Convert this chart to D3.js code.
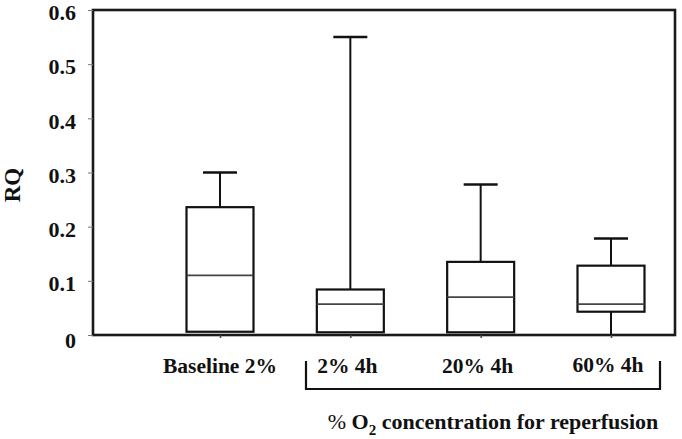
<!DOCTYPE html>
<html>
<head>
<meta charset="utf-8">
<script src="https://cdn.jsdelivr.net/npm/d3@7"></script>
<style>
  html, body { margin: 0; padding: 0; background: #fff; }
  svg { display: block; }
  text { font-family: "Liberation Serif", "Times New Roman", serif; font-weight: bold; fill: #111; }
</style>
</head>
<body>
<svg id="chart" width="682" height="439"></svg>
<script>
// ---- data ----
const categories = ["Baseline 2%", "2% 4h", "20% 4h", "60% 4h"];
const whiskerMin = [0.006, 0.005, 0.005, 0.0];
const q1Values   = [0.006, 0.005, 0.005, 0.043];
const medians    = [0.110, 0.057, 0.070, 0.057];
const q3Values   = [0.236, 0.084, 0.135, 0.128];
const whiskerMax = [0.300, 0.550, 0.278, 0.178];
const yTicks = [0, 0.1, 0.2, 0.3, 0.4, 0.5, 0.6];
const yTickLabels = ["0", "0.1", "0.2", "0.3", "0.4", "0.5", "0.6"];
const yLabel = "RQ";
const bracketLabel = "concentration for reperfusion";

const boxes = categories.map((c, i) => ({
  cat: c, min: whiskerMin[i], q1: q1Values[i], med: medians[i], q3: q3Values[i], max: whiskerMax[i]
}));

// ---- layout ----
const plotL = 93, plotR = 675, plotT = 10, plotB = 335;
const svg = d3.select("#chart");

const y = d3.scaleLinear().domain([0, 0.6]).range([plotB, plotT]);
const x = d3.scalePoint().domain(categories).range([220, 611]);
const boxW = 67, capW = 34;

// frame
svg.append("rect")
  .attr("x", plotL).attr("y", plotT)
  .attr("width", plotR - plotL).attr("height", plotB - plotT)
  .attr("fill", "none").attr("stroke", "#1a1a1a").attr("stroke-width", 2.6);

// y axis
const yAxis = d3.axisLeft(y).tickValues(yTicks).tickSize(5).tickPadding(12)
  .tickFormat((d, i) => yTickLabels[i]);
const gy = svg.append("g").attr("transform", `translate(${plotL},0)`).call(yAxis);
gy.select(".domain").remove();
gy.selectAll(".tick line").attr("stroke", "#777").attr("stroke-width", 1);
gy.selectAll(".tick text")
  .attr("dy", (d) => d === 0 ? "0.55em" : "0.44em")
  .style("font-size", "22px")
  .style("font-family", "Liberation Serif, serif")
  .style("font-weight", "bold")
  .attr("fill", "#111");

// x axis ticks (small, below axis)
const xAxis = d3.axisBottom(x).tickSize(3).tickFormat("");
const gx = svg.append("g").attr("transform", `translate(0,${plotB})`).call(xAxis);
gx.select(".domain").remove();
gx.selectAll(".tick line").attr("stroke", "#444").attr("stroke-width", 1.5);

// category labels
svg.append("g").selectAll("text").data(categories).join("text")
  .attr("x", (d, i) => x(d) - (i === 0 ? 0 : 3))
  .attr("y", (d, i) => i === 3 ? 372 : 373)
  .attr("text-anchor", "middle")
  .style("font-size", "21.5px")
  .text(d => d);

// y label
svg.append("text")
  .attr("transform", `translate(20,185) rotate(-90)`)
  .attr("text-anchor", "middle")
  .style("font-size", "23px")
  .text(yLabel);

// boxes
const g = svg.append("g");
const bx = g.selectAll("g.box").data(boxes).join("g").attr("class", "box");

bx.append("line")
  .attr("x1", d => x(d.cat)).attr("x2", d => x(d.cat))
  .attr("y1", d => y(d.q3)).attr("y2", d => y(d.max))
  .attr("stroke", "#111").attr("stroke-width", 2);
bx.append("line")
  .attr("x1", d => x(d.cat) - capW / 2).attr("x2", d => x(d.cat) + capW / 2)
  .attr("y1", d => y(d.max)).attr("y2", d => y(d.max))
  .attr("stroke", "#111").attr("stroke-width", 2.5);
bx.filter(d => d.q1 - d.min > 0.002).append("line")
  .attr("x1", d => x(d.cat)).attr("x2", d => x(d.cat))
  .attr("y1", d => y(d.q1)).attr("y2", d => y(d.min))
  .attr("stroke", "#111").attr("stroke-width", 2);
bx.append("rect")
  .attr("x", d => x(d.cat) - boxW / 2)
  .attr("y", d => y(d.q3))
  .attr("width", boxW)
  .attr("height", d => y(d.q1) - y(d.q3))
  .attr("fill", "#fff").attr("stroke", "#111").attr("stroke-width", 2.2);
bx.append("line")
  .attr("x1", d => x(d.cat) - boxW / 2).attr("x2", d => x(d.cat) + boxW / 2)
  .attr("y1", d => y(d.med)).attr("y2", d => y(d.med))
  .attr("stroke", "#444").attr("stroke-width", 1.6);

// bracket under reperfusion groups
const bracketL = 306, bracketR = 660, bracketTop = 361, bracketBot = 389;
svg.append("path")
  .attr("d", `M${bracketL},${bracketTop} V${bracketBot} H${bracketR} V${bracketTop}`)
  .attr("fill", "none").attr("stroke", "#111").attr("stroke-width", 2.2);

// bracket label with subscript
const bt = svg.append("text")
  .attr("x", 493).attr("y", 429)
  .attr("text-anchor", "middle")
  .style("font-size", "22px");
bt.append("tspan").style("font-weight", "normal").text("% ");
bt.append("tspan").text("O");
bt.append("tspan").attr("dy", 6).style("font-size", "15px").text("2");
bt.append("tspan").attr("dy", -6).text(" " + bracketLabel);
</script>
</body>
</html>
